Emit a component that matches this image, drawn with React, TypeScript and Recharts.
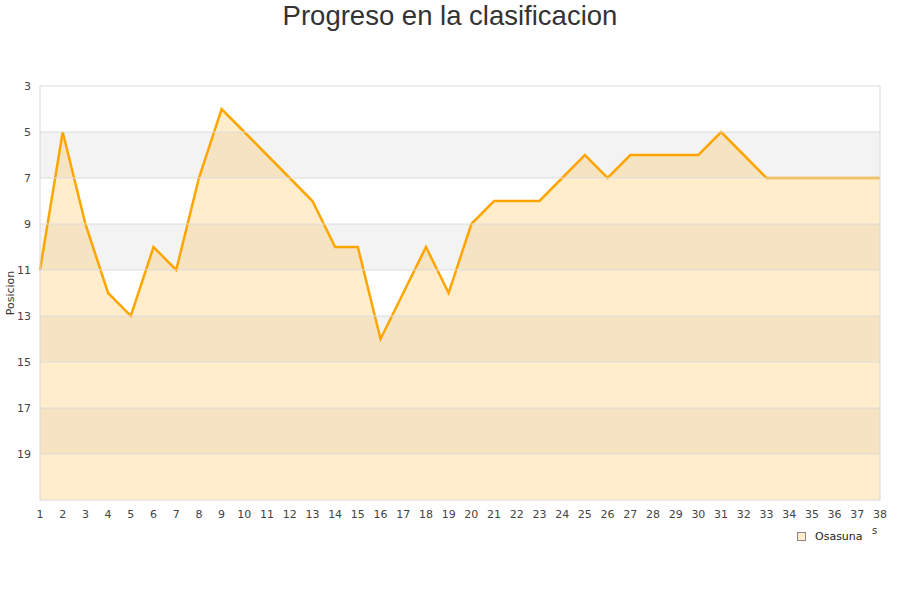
import React from "react";
import {
  AreaChart,
  Area,
  XAxis,
  YAxis,
  ReferenceArea,
  ReferenceLine,
} from "recharts";

const rounds: number[] = Array.from({ length: 38 }, (_, i) => i + 1);
const positions: number[] = [
  11, 5, 9, 12, 13, 10, 11, 7, 4, 5, 6, 7, 8, 10, 10, 14, 12, 10, 12, 9, 8, 8, 8,
  7, 6, 7, 6, 6, 6, 6, 5, 6, 7, 7, 7, 7, 7, 7,
];
const yTicks: number[] = [3, 5, 7, 9, 11, 13, 15, 17, 19];
const bands: [number, number][] = [
  [5, 7],
  [9, 11],
  [13, 15],
  [17, 19],
];
const teamName = "Osasuna";
const title = "Progreso en la clasificacion";
const yLabel = "Posicion";

const data = rounds.map((r, i) => ({ round: r, pos: positions[i] }));

const tickStyle = { fontSize: 11, fill: "#444", fontFamily: "DejaVu Sans" };

export default function App() {
  return (
    <div
      style={{
        position: "absolute",
        left: 0,
        top: 0,
        width: 900,
        height: 600,
        background: "#fff",
      }}
    >
      <div
        style={{
          position: "absolute",
          left: 0,
          top: 0,
          width: 900,
          textAlign: "center",
          fontFamily: "Liberation Sans, Arial, sans-serif",
          fontSize: 27.5,
          color: "#333",
          lineHeight: "32px",
        }}
      >
        {title}
      </div>
      <div
        style={{
          position: "absolute",
          left: 872,
          top: 525,
          fontFamily: "DejaVu Sans",
          fontSize: 10,
          color: "#333",
        }}
      >
        s
      </div>
      <div
        style={{
          position: "absolute",
          left: 797,
          top: 530,
          display: "flex",
          alignItems: "center",
          fontFamily: "DejaVu Sans",
          fontSize: 11,
          color: "#222",
        }}
      >
        <span
          style={{
            display: "inline-block",
            width: 7,
            height: 7,
            background: "#FFEDCC",
            border: "1px solid #888",
            marginRight: 9,
          }}
        />
        <span>{teamName}</span>
      </div>
      <AreaChart
        width={900}
        height={600}
        data={data}
        margin={{ top: 86, right: 20, bottom: 70, left: 0 }}
      >
        {bands.map(([a, b], i) => (
          <ReferenceArea
            key={`b${i}`}
            y1={a}
            y2={b}
            fill="#f3f3f3"
            fillOpacity={1}
            stroke="none"
          />
        ))}
        {yTicks.map((t) => (
          <ReferenceLine key={`g${t}`} y={t} stroke="#dcdcdc" />
        ))}
        <XAxis
          dataKey="round"
          type="number"
          domain={[1, 38]}
          ticks={rounds}
          interval={0}
          height={30}
          tick={tickStyle}
          tickLine={false}
          axisLine={{ stroke: "#d8d8d8" }}
          tickMargin={4}
        />
        <YAxis
          reversed
          type="number"
          domain={[3, 21]}
          ticks={yTicks}
          interval={0}
          width={40}
          tick={tickStyle}
          tickLine={false}
          axisLine={{ stroke: "#d8d8d8" }}
          tickMargin={3}
          label={{
            value: yLabel,
            angle: -90,
            position: "insideLeft",
            offset: 10,
            style: { fontSize: 11, fill: "#333", fontFamily: "DejaVu Sans", textAnchor: "middle" },
          }}
        />
        <Area
          type="linear"
          dataKey="pos"
          baseValue={21}
          stroke="#FFA500"
          strokeWidth={2.5}
          fill="#FFA500"
          fillOpacity={0.2}
          dot={false}
          activeDot={false}
          isAnimationActive={false}
        />
        <ReferenceLine x={38} stroke="#d8d8d8" />
      </AreaChart>
    </div>
  );
}
